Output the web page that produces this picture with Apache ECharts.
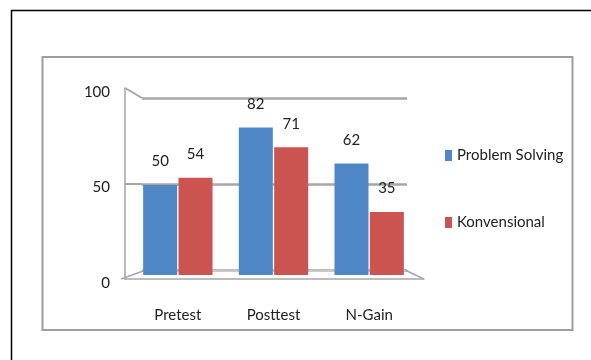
<!DOCTYPE html>
<html>
<head>
<meta charset="utf-8">
<script src="https://cdn.jsdelivr.net/npm/echarts@6/dist/echarts.min.js"></script>
<style>
html,body{margin:0;padding:0;background:#fff;}
#chart{width:591px;height:360px;}
</style>
</head>
<body>
<div id="chart"></div>
<script>
var categories = ['Pretest', 'Posttest', 'N-Gain'];
var problemSolving = [50, 82, 62];
var konvensional = [54, 71, 35];
var yTicks = [0, 50, 100];
var seriesNames = ['Problem Solving', 'Konvensional'];

var FONT = 'Lato, "Liberation Sans", sans-serif';
var FS = 15;
var chart = echarts.init(document.getElementById('chart'), null, {renderer: 'canvas'});
var gray = '#a6a6a6';

var option = {
  animation: false,
  backgroundColor: '#ffffff',
  legend: {
    orient: 'vertical',
    left: 440,
    top: 143,
    itemGap: 52,
    itemWidth: 7,
    itemHeight: 11,
    icon: 'rect',
    textStyle: {fontFamily: FONT, fontSize: FS, color: '#222'},
    data: seriesNames
  },
  graphic: [
    {type: 'rect', shape: {x: 11.5, y: 10.5, width: 700, height: 500}, style: {fill: 'none', stroke: '#000', lineWidth: 1.5}, z: 0},
    {type: 'rect', shape: {x: 42.5, y: 57, width: 530, height: 273}, style: {fill: 'none', stroke: '#9e9e9e', lineWidth: 2}, z: 0},
    {type: 'polyline', shape: {points: [[125, 88], [142, 98]]}, style: {stroke: gray, lineWidth: 2, fill: 'none'}, z: 1},
    {type: 'polyline', shape: {points: [[125, 184], [142, 184]]}, style: {stroke: gray, lineWidth: 2, fill: 'none'}, z: 1},
    {type: 'polyline', shape: {points: [[121, 279], [143, 271]]}, style: {stroke: gray, lineWidth: 1.5, fill: 'none'}, z: 1},
    {type: 'polyline', shape: {points: [[424, 279], [405, 270]]}, style: {stroke: gray, lineWidth: 1.5, fill: 'none'}, z: 1},
    {type: 'polyline', shape: {points: [[143, 271], [405, 271]]}, style: {stroke: '#cfcfcf', lineWidth: 1.5, fill: 'none'}, z: 1}
  ],
  grid: [
    {left: 130, width: 287, top: 95, height: 180, containLabel: false},
    {left: 142, width: 265, top: 98, height: 172, containLabel: false},
    {left: 125, width: 299, top: 88, height: 191, containLabel: false}
  ],
  xAxis: [
    {
      gridIndex: 0, type: 'category', data: categories,
      axisLine: {show: false}, axisTick: {show: false},
      axisLabel: {margin: 33, fontFamily: FONT, fontSize: FS, color: '#222'}
    },
    {gridIndex: 1, type: 'category', data: categories, show: false},
    {
      gridIndex: 2, type: 'category', data: categories,
      axisLine: {show: true, lineStyle: {color: gray, width: 1.5}},
      axisTick: {show: false}, axisLabel: {show: false}
    }
  ],
  yAxis: [
    {gridIndex: 0, type: 'value', min: 0, max: 100, interval: 50, show: false},
    {
      gridIndex: 1, type: 'value', min: 0, max: 100, interval: 50,
      axisLine: {show: false}, axisTick: {show: false}, axisLabel: {show: false},
      splitLine: {show: true, lineStyle: {color: gray, width: 2.5}}
    },
    {
      gridIndex: 2, type: 'value', min: yTicks[0], max: yTicks[yTicks.length - 1], interval: 50,
      axisLine: {show: true, lineStyle: {color: gray, width: 1.5}},
      axisTick: {show: false},
      splitLine: {show: false},
      axisLabel: {margin: 15, verticalAlign: 'top', lineHeight: 8, fontFamily: FONT, fontSize: FS, color: '#222'}
    }
  ],
  series: [
    {
      name: seriesNames[0], type: 'bar', xAxisIndex: 0, yAxisIndex: 0,
      data: problemSolving, barWidth: 34, barGap: '4%',
      itemStyle: {color: '#4F86C6'},
      label: {show: true, position: 'top', distance: 16, fontFamily: FONT, fontSize: FS, color: '#222'},
      z: 5
    },
    {
      name: seriesNames[1], type: 'bar', xAxisIndex: 0, yAxisIndex: 0,
      data: konvensional, barWidth: 34,
      itemStyle: {color: '#CC5450'},
      label: {show: true, position: 'top', distance: 16, fontFamily: FONT, fontSize: FS, color: '#222'},
      z: 5
    }
  ]
};
chart.setOption(option);
</script>
</body>
</html>
